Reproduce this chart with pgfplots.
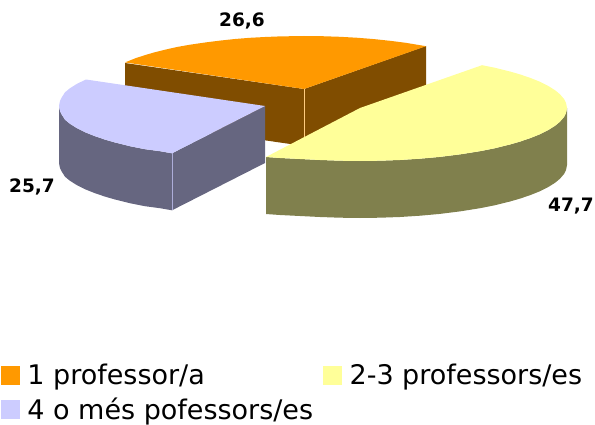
\documentclass[border=0pt]{standalone}
\usepackage{pgfplots}
\pgfplotsset{compat=1.18}
\usepackage{fontspec}
\setmainfont{DejaVu Sans}
\definecolor{orangetop}{HTML}{FF9900}
\definecolor{orangeside}{HTML}{804D00}
\definecolor{yellowtop}{HTML}{FFFF99}
\definecolor{yellowside}{HTML}{80804D}
\definecolor{lavtop}{HTML}{CCCCFF}
\definecolor{lavside}{HTML}{666680}
\pgfplotsset{
  square key/.style={legend image code/.code={
    \fill[##1] (0bp,-9bp) rectangle (18bp,9bp);
    \path (26bp,0bp);}},
}
\begin{document}
\begin{tikzpicture}
\useasboundingbox (0,0) rectangle (595bp,425bp);
\begin{axis}[
    at={(0,0)}, anchor=south west,
    scale only axis,
    width=595bp, height=425bp,
    xmin=0, xmax=595, ymin=0, ymax=425,
    y dir=reverse,
    hide axis,
    clip=false,
    legend style={
      at={(axis cs:1,364)}, anchor=north west,
      draw=none, fill=none, inner sep=0pt, outer sep=0pt,
      font=\fontsize{27bp}{31bp}\selectfont,
      row sep=11.5bp,
      nodes={inner sep=0pt, outer sep=0pt},
      /tikz/column 2/.style={column sep=10bp},
    },
    legend columns=2,
    legend cell align=left,
]
% orange slice (26,6)
\addplot[forget plot, fill=orangeside, draw=none] coordinates {(125,63) (304,89) (304,146) (125,120)} -- cycle;
\addplot[forget plot, fill=orangeside, draw=none] coordinates {(304,89) (426,46) (426,103) (304,146)} -- cycle;
\addplot[forget plot, draw=orangetop!50!white, line width=0.4pt] coordinates {(304,89) (304,137)};
\addplot[forget plot, fill=orangetop, draw=none] coordinates {
  (304,89) (125,62.4) (135,58.4) (145,55.1) (155,52.2) (165,49.7) (177,47) (190,44.7) (205,42.5) (220,40.6)
  (235,39) (250,37.8) (265,37) (280,36.4) (304,36) (322,36.2) (340,36.8) (358,37.8) (375,39.2) (390,40.8)
  (405,42.7) (426,46.2)} -- cycle;
% lavender slice (25,7)
\addplot[forget plot, fill=lavside, draw=none] coordinates {
  (59,106) (60,111.2) (62,115) (65,119.7) (70,123.8) (77,128.2) (85,132.2) (95,136.2) (105,139.6)
  (115,142.5) (130,146.2) (145,149.2) (160,151.2) (172,153.3)
  (172,210.3) (160,208.2) (145,206.2) (130,203.2) (115,199.5) (105,196.6) (95,193.2) (85,189.2)
  (77,185.2) (70,180.8) (65,176.7) (62,172) (60,168.2) (59,163)} -- cycle;
\addplot[forget plot, fill=lavside, draw=none] coordinates {(172,153.3) (265,106) (265,163) (172,210.3)} -- cycle;
\addplot[forget plot, draw=lavtop!70!lavside, line width=0.4pt] coordinates {(172,153.3) (172,210.3)};
\addplot[forget plot, fill=lavtop, draw=none] coordinates {
  (265,106) (86,79.5) (77,83.8) (70,88.2) (65,92.3) (62,97) (60,100.8) (59,106) (60,111.2) (62,115)
  (65,119.7) (70,123.8) (77,128.2) (85,132.2) (95,136.2) (105,139.6) (115,142.5) (130,146.2)
  (145,149.2) (160,151.2) (172,153.3)} -- cycle;
% yellow slice (47,7)
\addplot[forget plot, fill=yellowside, draw=none] coordinates {
  (567,108) (566,113.2) (564,117) (560,121.7) (555,125.8) (548,130.2) (540,134.2) (530,138.2) (520,141.6)
  (510,144.5) (495,148.2) (480,151.2) (460,154.4) (440,156.9) (420,158.7) (400,160) (380,160.7) (360,161)
  (340,160.7) (320,160) (300,159) (280,158) (266,157)
  (266,214) (280,215) (300,216) (320,217) (340,217.7) (360,218) (380,217.7) (400,217) (420,215.7)
  (440,213.9) (460,211.4) (480,208.2) (495,205.2) (510,201.5) (520,198.6) (530,195.2) (540,191.2)
  (548,187.2) (555,182.8) (560,178.7) (564,174) (566,170.2) (567,165)} -- cycle;
\addplot[forget plot, fill=yellowtop, draw=none] coordinates {
  (360,108) (482,65.2) (495,67.8) (510,71.5) (520,74.4) (530,77.8) (540,81.8) (548,85.8) (555,90.2)
  (560,94.3) (564,99) (566,102.8) (567,108) (566,113.2) (564,117) (560,121.7) (555,125.8) (548,130.2)
  (540,134.2) (530,138.2) (520,141.6) (510,144.5) (495,148.2) (480,151.2) (460,154.4) (440,156.9)
  (420,158.7) (400,160) (380,160.7) (360,161) (340,160.7) (320,160) (300,159) (280,158) (266,157)} -- cycle;
% legend entries
\addlegendimage{square key, orangetop}
\addlegendentry{1 professor/a}
\addlegendimage{square key, yellowtop}
\addlegendentry{2-3 professors/es}
\addlegendimage{square key, lavtop}
\addlegendentry{4 o més pofessors/es}
% value labels
\node[font=\fontsize{18.5bp}{20bp}\selectfont\bfseries] at (axis cs:242,21) {26,6};
\node[font=\fontsize{18.5bp}{20bp}\selectfont\bfseries] at (axis cs:32,187) {25,7};
\node[font=\fontsize{18.5bp}{20bp}\selectfont\bfseries] at (axis cs:571,206) {47,7};
\end{axis}
\end{tikzpicture}
\end{document}
